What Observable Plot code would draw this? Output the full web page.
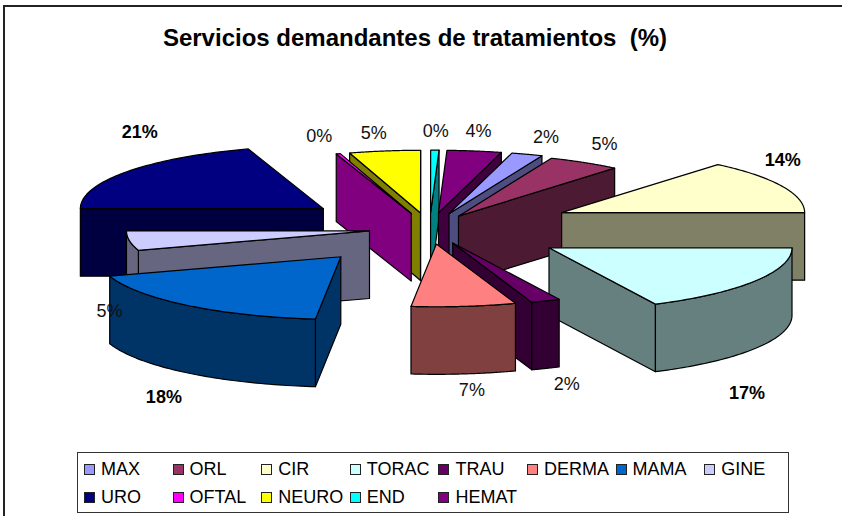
<!DOCTYPE html>
<html>
<head>
<meta charset="utf-8">
<script src="https://cdn.jsdelivr.net/npm/d3@7"></script>
<script src="https://cdn.jsdelivr.net/npm/@observablehq/plot@0.6"></script>
<style>
  html, body { margin: 0; padding: 0; background: #fff; width: 842px; height: 516px; overflow: hidden; font-family: "Liberation Sans", Arial, sans-serif; color: #000; }
  #frame { position: absolute; left: 3px; top: 5px; width: 839px; height: 511px; box-sizing: border-box; border-top: 2px solid #222; border-left: 2px solid #222; }
  #title { position: absolute; left: 0; top: 24px; width: 830px; text-align: center; font-weight: bold; font-size: 24px; line-height: 28px; white-space: pre; }
  #chart { position: absolute; left: 0; top: 60px; }
  #legend { position: absolute; left: 77px; top: 452px; width: 712px; height: 61px; box-sizing: border-box; border: 1.5px solid #333; background: #fff; }
  #legend .item { position: absolute; display: flex; align-items: center; font-size: 18px; line-height: 20px; white-space: nowrap; }
  #legend .sw { width: 9px; height: 9px; border: 1px solid #222; margin-right: 6px; flex: none; }
</style>
</head>
<body>
<div id="frame"></div>
<div id="title">Servicios demandantes de tratamientos  (%)</div>
<div id="chart"></div>
<div id="legend"></div>
<script>
// Data
const services = ["MAX","ORL","CIR","TORAC","TRAU","DERMA","MAMA","GINE","URO","OFTAL","NEURO","END","HEMAT"];
const shares   = [2.08, 4.86, 13.89, 17.78, 1.94, 6.94, 18.33, 5.0, 20.0, 0.28, 4.72, 0.55, 3.61];
const percentLabels = ["2%","5%","14%","17%","2%","7%","18%","5%","21%","0%","5%","0%","4%"];
const explode  = [0.25, 0.23, 0.60, 0.58, 0.25, 0.25, 0.58, 0.25, 0.54, 0.25, 0.25, 0.25, 0.25];
const colors   = ["#9999FF","#993366","#FFFFCC","#CCFFFF","#660066","#FF8080","#0066CC","#CCCCFF","#000080","#FF00FF","#FFFF00","#00FFFF","#800080"];

// Chart settings
const startAngle = 15, tilt = 0.258, depth = 0.278;
const pxPerUnit = 243, cx = 429, cy = 228, svgTop = 60, svgH = 395, W = 842;
const paintOrder = ["NEURO","OFTAL","END","HEMAT","MAX","ORL","CIR","TORAC","TRAU","DERMA","URO","GINE","MAMA"];
const labelShift = {MAX:[19,-17],ORL:[20,-18],CIR:[1,-26],TORAC:[-8,112],TRAU:[21,83],DERMA:[8,84],MAMA:[-24,92],GINE:[-20,70],URO:[13,-40],OFTAL:[-19,-18],NEURO:[-11,-18],END:[1,-19],HEMAT:[4,-20]};

const rad = d => d * Math.PI / 180;
const total = d3.sum(shares);
let cum = startAngle;
const slices = services.map((name, i) => {
  const a0 = cum, a1 = cum + shares[i] / total * 360; cum = a1;
  const mid = rad((a0 + a1) / 2);
  return {name, value: shares[i], label: percentLabels[i], color: colors[i], a0, a1, mid,
    ax: explode[i] * Math.sin(mid), ay: explode[i] * Math.cos(mid) * tilt};
});
const bySvc = new Map(slices.map(s => [s.name, s]));

const rim = (s, deg) => [s.ax + Math.sin(rad(deg)), s.ay + Math.cos(rad(deg)) * tilt];
const faces = [];
function addFace(id, pts, fill) {
  const closed = [...pts, pts[0]];
  closed.forEach(p => faces.push({id, x: p[0], y: p[1], fill}));
}
paintOrder.forEach(name => {
  const s = bySvc.get(name);
  const side = d3.interpolateRgb(s.color, "#000")(0.5);
  const down = p => [p[0], p[1] - depth];
  const apex = [s.ax, s.ay];
  const cutFace = (deg, tag) => {
    const r = rim(s, deg);
    addFace(name + tag, [apex, r, down(r), down(apex)], side);
  };
  if (Math.sin(rad(s.a0)) < 0) cutFace(s.a0, "-start");
  if (Math.sin(rad(s.a1)) > 0) cutFace(s.a1, "-end");
  // outer wall: front-facing part of the arc
  const arcDegs = d3.range(61).map(k => s.a0 + (s.a1 - s.a0) * k / 60);
  const wall = arcDegs.filter(d => Math.cos(rad(d)) < 0);
  if (wall.length > 1) {
    const upper = wall.map(d => rim(s, d));
    addFace(name + "-wall", [...upper, ...upper.slice().reverse().map(down)], side);
  }
  // top
  addFace(name + "-top", [apex, ...arcDegs.map(d => rim(s, d))], s.color);
});

const labels = slices.map(s => {
  const [dx, dy] = labelShift[s.name];
  const r = [s.ax + Math.sin(s.mid), s.ay + Math.cos(s.mid) * tilt];
  return {x: r[0] + dx / pxPerUnit, y: r[1] - dy / pxPerUnit, text: s.label, bold: s.value >= 13};
});

const plot = Plot.plot({
  width: W, height: svgH, margin: 0,
  x: {domain: [-cx / pxPerUnit, (W - cx) / pxPerUnit], range: [0, W], axis: null},
  y: {domain: [(cy - svgTop) / pxPerUnit, (cy - svgTop - svgH) / pxPerUnit], range: [0, svgH], axis: null},
  color: {type: "identity"},
  style: {background: "none", overflow: "visible"},
  marks: [
    Plot.line(faces, {x: "x", y: "y", z: "id", fill: "fill", stroke: "#000", strokeWidth: 1.2, strokeLinejoin: "round"}),
    Plot.text(labels.filter(d => !d.bold), {x: "x", y: "y", text: "text", fontSize: 18, fontFamily: "Liberation Sans", fill: "#111"}),
    Plot.text(labels.filter(d => d.bold), {x: "x", y: "y", text: "text", fontSize: 18, fontWeight: "bold", fontFamily: "Liberation Sans", fill: "#000"})
  ]
});
document.getElementById("chart").append(plot);

// Legend: two rows of eight columns
const legend = document.getElementById("legend");
const colW = 88.6, colX = 6, rowY = [6, 34];
const rowsPerCol = [["MAX","URO"],["ORL","OFTAL"],["CIR","NEURO"],["TORAC","END"],["TRAU","HEMAT"],["DERMA"],["MAMA"],["GINE"]];
rowsPerCol.forEach((col, c) => col.forEach((name, r) => {
  const el = document.createElement("div");
  el.className = "item";
  el.style.left = (colX + c * colW) + "px";
  el.style.top = rowY[r] + "px";
  const sw = document.createElement("span");
  sw.className = "sw";
  sw.style.background = bySvc.get(name).color;
  el.append(sw, name);
  legend.append(el);
}));
</script>
</body>
</html>
